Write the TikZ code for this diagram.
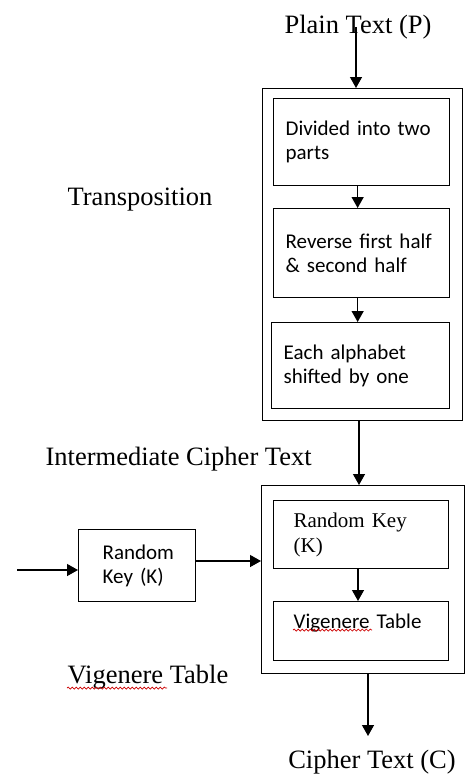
\documentclass[tikz,border=0pt]{standalone}
\usepackage{fontspec}
\setmainfont{Liberation Serif}
\newfontfamily\boxfont{Carlito}
\usetikzlibrary{arrows.meta,decorations.pathmorphing}

\begin{document}
\begin{tikzpicture}[x=1pt,y=-1pt,
  line width=1.3pt,
  frame/.style={draw,rectangle,inner sep=0pt,anchor=north west},
  stepbox/.style={draw,rectangle,anchor=north west,inner xsep=12pt,inner ysep=0pt,
    align=left,font=\boxfont\fontsize{21}{24}\selectfont},
  caption/.style={inner sep=0pt,font=\fontsize{26.5}{30}\selectfont},
  arr/.style={-{Triangle[length=11pt,width=12pt]}},
  squiggle/.style={draw=red!80!black,line width=0.7pt,
    decorate,decoration={snake,segment length=4pt,amplitude=1pt}}]

\useasboundingbox (0,0) rectangle (465,774);

% ---- transposition stage ----
\node[caption,anchor=base] (pt) at (358,33) {Plain Text (P)};
\coordinate (ptin) at (356,27);
\node[frame,minimum width=200pt,minimum height=332pt] (outer1) at (262,88) {};
\node[stepbox,minimum width=176pt,minimum height=87pt,text width=152pt] (s1) at (273,98)
  {Divided into two\\parts};
\node[stepbox,minimum width=176pt,minimum height=89pt,text width=152pt] (s2) at (273,208)
  {Reverse first half\\\& second half};
\node[stepbox,minimum width=178pt,minimum height=86pt,text width=154pt] (s3) at (271,322)
  {Each alphabet\\shifted by one};
\node[caption,anchor=base west] (tr) at (67,205) {Transposition};

\draw[arr] (ptin) -- (ptin |- outer1.north);
\draw[arr] ([xshift=-4pt]s1.south) -- ([xshift=-4pt]s1.south |- s2.north);
\draw[arr] ([xshift=-4pt]s2.south) -- ([xshift=-4pt]s2.south |- s3.north);

% ---- substitution stage ----
\node[caption,anchor=base west] (ict) at (45,465) {Intermediate Cipher Text};
\node[frame,minimum width=203pt,minimum height=188pt] (outer2) at (261,485) {};
\node[stepbox,inner xsep=20pt,minimum width=175pt,minimum height=68pt,text width=135pt,
  font=\fontsize{21}{25}\selectfont] (rk) at (273,500) {Random Key\\(K)};
\node[stepbox,inner xsep=20pt,minimum width=175pt,text width=135pt,
  text height=27pt,text depth=32pt] (vt) at (273,601) {Vigenere Table};
\node[stepbox,inner xsep=24pt,minimum width=117pt,minimum height=72pt,text width=69pt] (lk) at (78,529)
  {Random\\Key (K)};
\coordinate (kin) at (17,570);
\node[caption,anchor=base west] (vtl) at (67,683) {Vigenere Table};
\node[caption,anchor=base] (ct) at (372,768) {Cipher Text (C)};

\draw[arr] (outer1.south -| 359,0) -- (outer2.north -| 359,0);
\draw[arr] (rk.south -| 358,0) -- (vt.north -| 358,0);
\draw[arr] (kin) -- (kin -| lk.west);
\draw[arr] (lk.east |- 0,561) -- (outer2.west |- 0,561);
\draw[arr] (outer2.south -| 368,0) -- (368,736);

% spell-check marks under "Vigenere"
\draw[squiggle] (67,688) -- (167,688);
\draw[squiggle] (293,630) -- (372,630);
\end{tikzpicture}
\end{document}
